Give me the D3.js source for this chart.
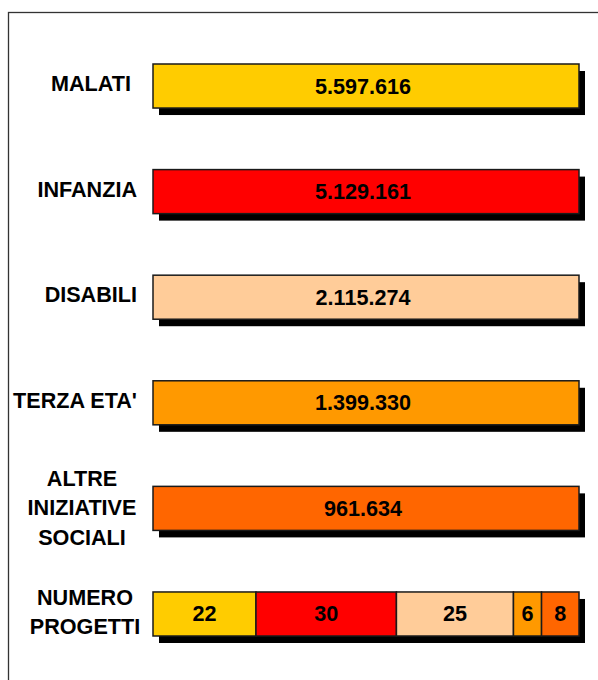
<!DOCTYPE html>
<html><head><meta charset="utf-8">
<script src="https://cdn.jsdelivr.net/npm/d3@7"></script>
<style>
html,body{margin:0;padding:0;background:#fff;}
svg{display:block;}
</style></head>
<body>
<svg id="chart" width="598" height="680"></svg>
<script>
// ---- data ----
const categories = ["MALATI", "INFANZIA", "DISABILI", "TERZA ETA'", "ALTRE INIZIATIVE SOCIALI"];
const labelLines = [["MALATI"], ["INFANZIA"], ["DISABILI"], ["TERZA ETA'"], ["ALTRE", "INIZIATIVE", "SOCIALI"]];
const amounts = [5597616, 5129161, 2115274, 1399330, 961634];
const projectsLabel = ["NUMERO", "PROGETTI"];
const projects = [22, 30, 25, 6, 8];
const colors = ["#FFCC00", "#FF0000", "#FFCC99", "#FF9900", "#FF6600"];

// ---- layout ----
const svg = d3.select("#chart");
const rows = categories.concat(["NUMERO PROGETTI"]);
const y = d3.scaleBand().domain(rows).range([64, 636]).paddingInner(0.583).paddingOuter(0);
const x = d3.scaleLinear().domain([0, 1]).range([153, 579]);
const shadowDx = 6, shadowDy = 7;
const font = "'Liberation Sans', Arial, Helvetica, sans-serif";
const fs = "21.6px";
const fmt = d3.formatLocale({decimal: ",", thousands: ".", grouping: [3], currency: ["€", ""]}).format(",d");

// frame
svg.append("rect").attr("x", 8.5).attr("y", 12.5).attr("width", 700).attr("height", 800)
  .attr("fill", "none").attr("stroke", "#333").attr("stroke-width", 1.3);

function label(sel, xx, yy, anchor, t) {
  return sel.append("text").attr("x", xx).attr("y", yy).attr("text-anchor", anchor)
    .attr("font-family", font).attr("font-weight", "bold").attr("font-size", fs)
    .attr("fill", "#000").text(t);
}

// amount rows: each bar is a full (100%) bar
const g = svg.append("g");
categories.forEach((c, i) => {
  const top = y(c), h = y.bandwidth();
  g.append("rect").attr("x", x(0) + shadowDx).attr("y", top + shadowDy)
    .attr("width", x(1) - x(0)).attr("height", h).attr("fill", "#000");
  g.append("rect").attr("x", x(0)).attr("y", top)
    .attr("width", x(amounts[i] / amounts[i]) - x(0)).attr("height", h)
    .attr("fill", colors[i]).attr("stroke", "#1a1a1a").attr("stroke-width", 1.5);
  label(g, (x(0) + x(1)) / 2 - 3, top + h / 2 + 7.5, "middle", fmt(amounts[i]));
  const lines = labelLines[i];
  const mid = top + h / 2;
  if (lines.length === 1) {
    label(g, c === "MALATI" ? 131 : 137, mid + 5, "end", lines[0]);
  } else {
    lines.forEach((l, k) => label(g, 82, mid + (k - (lines.length - 1) / 2) * 29.4 + 7, "middle", l));
  }
});

// projects row: stacked
const total = d3.sum(projects);
let cum = 0;
const segs = projects.map((v, i) => { const s = {v, i, x0: cum / total, x1: (cum + v) / total}; cum += v; return s; });
const pTop = y("NUMERO PROGETTI"), pH = y.bandwidth();
g.append("rect").attr("x", x(0) + shadowDx).attr("y", pTop + shadowDy)
  .attr("width", x(1) - x(0)).attr("height", pH).attr("fill", "#000");
g.selectAll(".seg").data(segs).join("rect").attr("class", "seg")
  .attr("x", d => x(d.x0)).attr("y", pTop).attr("width", d => x(d.x1) - x(d.x0)).attr("height", pH)
  .attr("fill", d => colors[d.i]).attr("stroke", "#1a1a1a").attr("stroke-width", 1.5);
segs.forEach(d => label(g, (x(d.x0) + x(d.x1)) / 2, pTop + pH / 2 + 7.5, "middle", d.v));
projectsLabel.forEach((l, k) => label(g, 85, pTop + pH / 2 + (k - 0.5) * 29 + 5.5, "middle", l));
</script>
</body></html>
